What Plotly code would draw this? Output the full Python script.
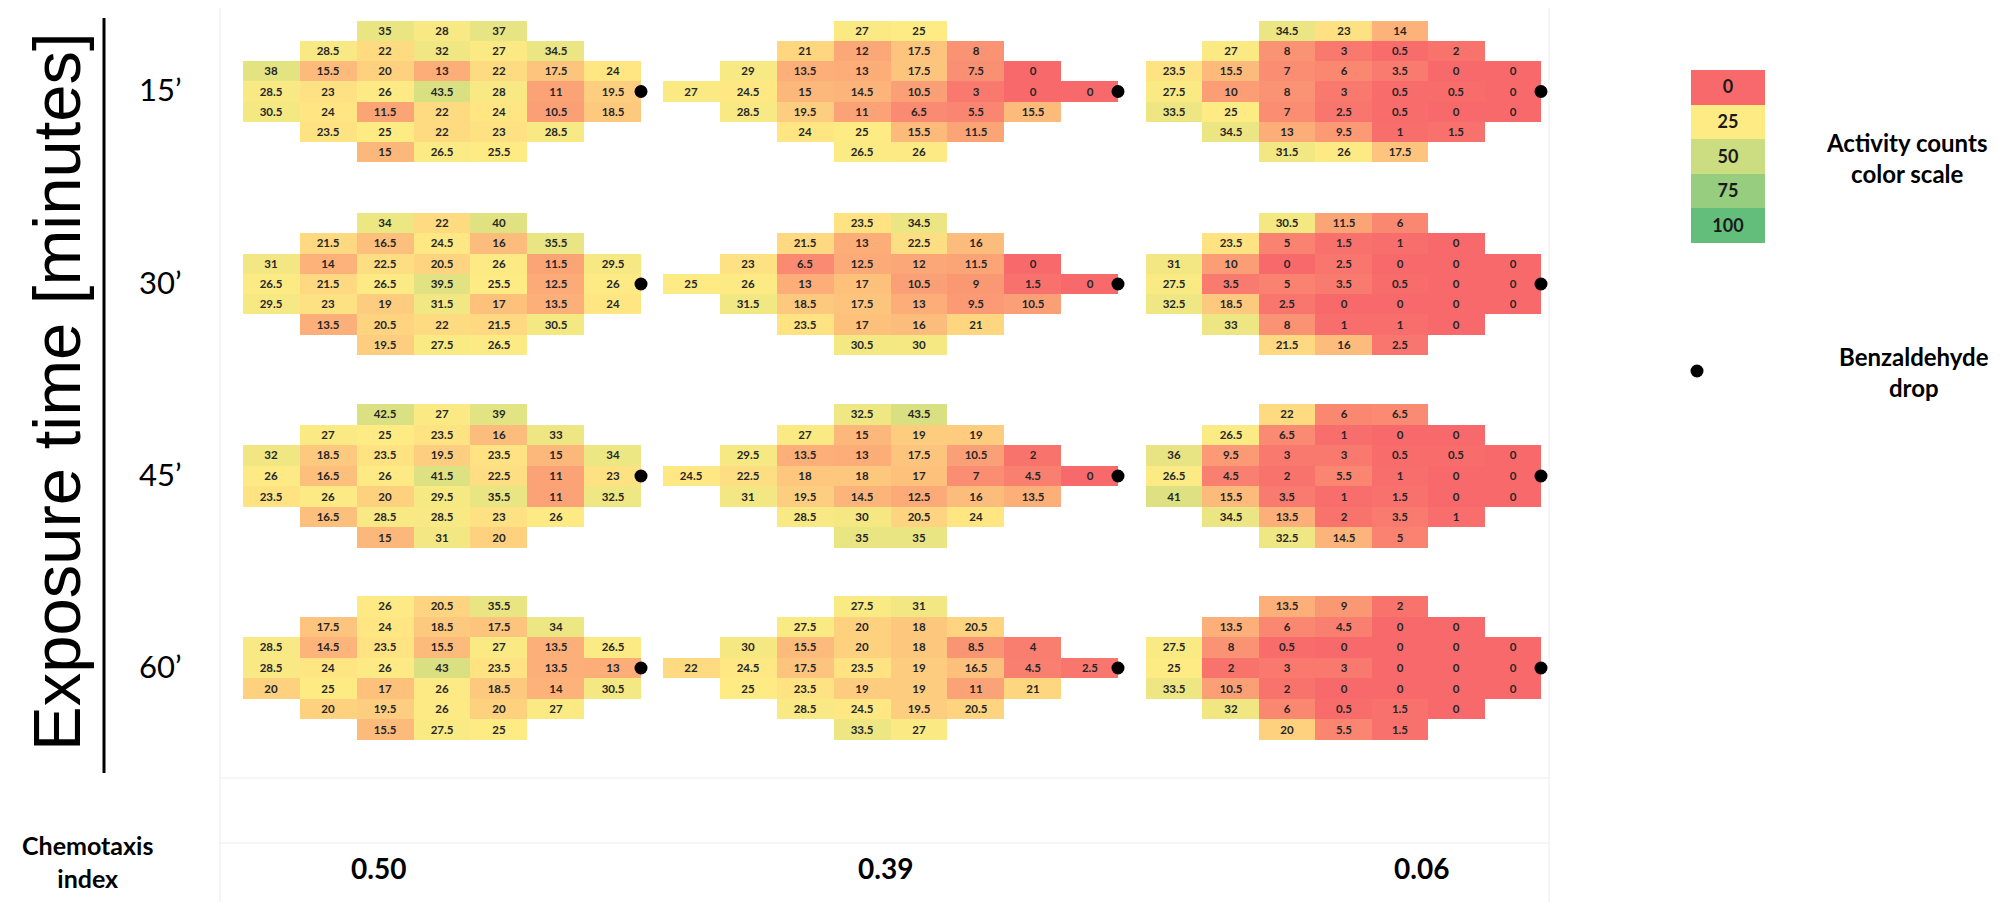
import plotly.graph_objects as go

W, H = 2014, 902

# ---------------- data ----------------
exposure_times = ["15’", "30’", "45’", "60’"]
chemotaxis_index = ["0.50", "0.39", "0.06"]
scale_ticks = [0, 25, 50, 75, 100]
drop_row = 3  # row of the arena where the benzaldehyde drop sits

# first occupied column of each of the 7 rows
hex_offsets = [2, 1, 0, 0, 0, 1, 2]        # 7-column arenas
diamond_offsets = [3, 2, 1, 0, 1, 2, 3]    # 8-column arena

# 15 minutes
t15_ci050 = [[35, 28, 37], [28.5, 22, 32, 27, 34.5], [38, 15.5, 20, 13, 22, 17.5, 24],
             [28.5, 23, 26, 43.5, 28, 11, 19.5], [30.5, 24, 11.5, 22, 24, 10.5, 18.5],
             [23.5, 25, 22, 23, 28.5], [15, 26.5, 25.5]]
t15_ci039 = [[27, 25], [21, 12, 17.5, 8], [29, 13.5, 13, 17.5, 7.5, 0],
             [27, 24.5, 15, 14.5, 10.5, 3, 0, 0], [28.5, 19.5, 11, 6.5, 5.5, 15.5],
             [24, 25, 15.5, 11.5], [26.5, 26]]
t15_ci006 = [[34.5, 23, 14], [27, 8, 3, 0.5, 2], [23.5, 15.5, 7, 6, 3.5, 0, 0],
             [27.5, 10, 8, 3, 0.5, 0.5, 0], [33.5, 25, 7, 2.5, 0.5, 0, 0],
             [34.5, 13, 9.5, 1, 1.5], [31.5, 26, 17.5]]
# 30 minutes
t30_ci050 = [[34, 22, 40], [21.5, 16.5, 24.5, 16, 35.5], [31, 14, 22.5, 20.5, 26, 11.5, 29.5],
             [26.5, 21.5, 26.5, 39.5, 25.5, 12.5, 26], [29.5, 23, 19, 31.5, 17, 13.5, 24],
             [13.5, 20.5, 22, 21.5, 30.5], [19.5, 27.5, 26.5]]
t30_ci039 = [[23.5, 34.5], [21.5, 13, 22.5, 16], [23, 6.5, 12.5, 12, 11.5, 0],
             [25, 26, 13, 17, 10.5, 9, 1.5, 0], [31.5, 18.5, 17.5, 13, 9.5, 10.5],
             [23.5, 17, 16, 21], [30.5, 30]]
t30_ci006 = [[30.5, 11.5, 6], [23.5, 5, 1.5, 1, 0], [31, 10, 0, 2.5, 0, 0, 0],
             [27.5, 3.5, 5, 3.5, 0.5, 0, 0], [32.5, 18.5, 2.5, 0, 0, 0, 0],
             [33, 8, 1, 1, 0], [21.5, 16, 2.5]]
# 45 minutes
t45_ci050 = [[42.5, 27, 39], [27, 25, 23.5, 16, 33], [32, 18.5, 23.5, 19.5, 23.5, 15, 34],
             [26, 16.5, 26, 41.5, 22.5, 11, 23], [23.5, 26, 20, 29.5, 35.5, 11, 32.5],
             [16.5, 28.5, 28.5, 23, 26], [15, 31, 20]]
t45_ci039 = [[32.5, 43.5], [27, 15, 19, 19], [29.5, 13.5, 13, 17.5, 10.5, 2],
             [24.5, 22.5, 18, 18, 17, 7, 4.5, 0], [31, 19.5, 14.5, 12.5, 16, 13.5],
             [28.5, 30, 20.5, 24], [35, 35]]
t45_ci006 = [[22, 6, 6.5], [26.5, 6.5, 1, 0, 0], [36, 9.5, 3, 3, 0.5, 0.5, 0],
             [26.5, 4.5, 2, 5.5, 1, 0, 0], [41, 15.5, 3.5, 1, 1.5, 0, 0],
             [34.5, 13.5, 2, 3.5, 1], [32.5, 14.5, 5]]
# 60 minutes
t60_ci050 = [[26, 20.5, 35.5], [17.5, 24, 18.5, 17.5, 34], [28.5, 14.5, 23.5, 15.5, 27, 13.5, 26.5],
             [28.5, 24, 26, 43, 23.5, 13.5, 13], [20, 25, 17, 26, 18.5, 14, 30.5],
             [20, 19.5, 26, 20, 27], [15.5, 27.5, 25]]
t60_ci039 = [[27.5, 31], [27.5, 20, 18, 20.5], [30, 15.5, 20, 18, 8.5, 4],
             [22, 24.5, 17.5, 23.5, 19, 16.5, 4.5, 2.5], [25, 23.5, 19, 19, 11, 21],
             [28.5, 24.5, 19.5, 20.5], [33.5, 27]]
t60_ci006 = [[13.5, 9, 2], [13.5, 6, 4.5, 0, 0], [27.5, 8, 0.5, 0, 0, 0, 0],
             [25, 2, 3, 3, 0, 0, 0], [33.5, 10.5, 2, 0, 0, 0, 0],
             [32, 6, 0.5, 1.5, 0], [20, 5.5, 1.5]]

panels = [[t15_ci050, t15_ci039, t15_ci006],
          [t30_ci050, t30_ci039, t30_ci006],
          [t45_ci050, t45_ci039, t45_ci006],
          [t60_ci050, t60_ci039, t60_ci006]]

# ---------------- style / layout ----------------
colorscale = [[0.0, "#F8696B"], [0.25, "#FFEB84"], [1.0, "#63BE7B"]]
col_px = [(235, 633), (655, 1110), (1138, 1533)]
row_px = [(13, 154), (205, 347), (396, 540), (588, 732)]
FONT_C = "Lato"


def xd(a, b):
    return [a / W, b / W]


def yd(top, bottom):
    return [1 - bottom / H, 1 - top / H]


fig = go.Figure()
layout_axes = {}
k = 0
for r in range(4):
    for c in range(3):
        k += 1
        vals = panels[r][c]
        offs = diamond_offsets if c == 1 else hex_offsets
        ncols = max(o + len(row) for o, row in zip(offs, vals))
        z = [[None] * ncols for _ in range(len(vals))]
        txt = [[""] * ncols for _ in range(len(vals))]
        for i, row in enumerate(vals):
            for j, v in enumerate(row):
                z[i][offs[i] + j] = v
                txt[i][offs[i] + j] = f"{v:g}"
        xa = "x" if k == 1 else f"x{k}"
        ya = "y" if k == 1 else f"y{k}"
        fig.add_trace(go.Heatmap(
            z=z, text=txt, texttemplate="%{text}", colorscale=colorscale,
            zmin=0, zmax=100, showscale=False, xaxis=xa, yaxis=ya,
            hoverinfo="skip", xgap=0, ygap=0,
            textfont=dict(size=11.5, color="#262626", family=FONT_C, weight="bold")))
        fig.add_trace(go.Scatter(
            x=[ncols - 0.5], y=[drop_row], mode="markers",
            marker=dict(color="black", size=13), cliponaxis=False,
            xaxis=xa, yaxis=ya, hoverinfo="skip", showlegend=False))
        sfx = "" if k == 1 else str(k)
        layout_axes["xaxis" + sfx] = dict(domain=xd(*col_px[c]), range=[-0.5, ncols - 0.5],
                                          visible=False, anchor=ya, fixedrange=True)
        layout_axes["yaxis" + sfx] = dict(domain=yd(*row_px[r]), range=[len(vals) - 0.5, -0.5],
                                          visible=False, anchor=xa, fixedrange=True)

# colour-scale key
k += 1
fig.add_trace(go.Heatmap(
    z=[[v] for v in scale_ticks], text=[[str(v)] for v in scale_ticks],
    texttemplate="%{text}", colorscale=colorscale, zmin=0, zmax=100,
    showscale=False, xaxis=f"x{k}", yaxis=f"y{k}", hoverinfo="skip",
    textfont=dict(size=18, color="#1a1a1a", family=FONT_C, weight="bold")))
layout_axes[f"xaxis{k}"] = dict(domain=xd(1683, 1757), range=[-0.5, 0.5], visible=False, anchor=f"y{k}")
layout_axes[f"yaxis{k}"] = dict(domain=yd(62, 235), range=[len(scale_ticks) - 0.5, -0.5],
                                visible=False, anchor=f"x{k}")

# benzaldehyde drop key
k += 1
fig.add_trace(go.Scatter(x=[0], y=[0], mode="markers", marker=dict(color="black", size=13),
                         xaxis=f"x{k}", yaxis=f"y{k}", hoverinfo="skip", showlegend=False,
                         cliponaxis=False))
layout_axes[f"xaxis{k}"] = dict(domain=xd(1674, 1704), range=[-1, 1], visible=False, anchor=f"y{k}")
layout_axes[f"yaxis{k}"] = dict(domain=yd(348, 378), range=[-1, 1], visible=False, anchor=f"x{k}")

annotations = []
# big axis title
annotations.append(dict(text="Exposure time [minutes]", x=48 / W, y=1 - 384 / H, xref="paper", yref="paper",
                        textangle=-90, showarrow=False, xanchor="center", yanchor="middle",
                        font=dict(family="Liberation Sans, Arial", size=67, color="black")))
for r, lab in enumerate(exposure_times):
    yc = (row_px[r][0] + row_px[r][1]) / 2 - 2
    annotations.append(dict(text=lab, x=152 / W, y=1 - yc / H, xref="paper", yref="paper",
                            showarrow=False, xanchor="center", yanchor="middle",
                            font=dict(family=FONT_C, size=31, color="black")))
annotations.append(dict(text="<b>Chemotaxis<br>index</b>", x=79 / W, y=1 - 853 / H, xref="paper", yref="paper",
                        showarrow=False, xanchor="center", yanchor="middle",
                        font=dict(family=FONT_C, size=25, color="black")))
ci_x = [370, 877, 1413]
for c, lab in enumerate(chemotaxis_index):
    annotations.append(dict(text=f"<b>{lab}</b>", x=ci_x[c] / W, y=1 - 860 / H, xref="paper", yref="paper",
                            showarrow=False, xanchor="center", yanchor="middle",
                            font=dict(family=FONT_C, size=28, color="black")))
annotations.append(dict(text="<b>Activity counts<br>color scale</b>", x=1898 / W, y=1 - 150 / H,
                        xref="paper", yref="paper", showarrow=False, xanchor="center", yanchor="middle",
                        font=dict(family=FONT_C, size=24, color="black")))
annotations.append(dict(text="<b>Benzaldehyde<br>drop</b>", x=1906 / W, y=1 - 364 / H,
                        xref="paper", yref="paper", showarrow=False, xanchor="center", yanchor="middle",
                        font=dict(family=FONT_C, size=24, color="black")))

shapes = [dict(type="line", xref="paper", yref="paper", x0=96 / W, x1=96 / W, y0=1 - 10 / H, y1=1 - 765 / H,
               line=dict(color="black", width=3))]
# faint spreadsheet gridlines behind the arenas
for gx in (212, 1541):
    shapes.append(dict(type="line", xref="paper", yref="paper", x0=gx / W, x1=gx / W, y0=0, y1=1,
                       line=dict(color="#ececec", width=1), layer="below"))
for gy in (770, 835):
    shapes.append(dict(type="line", xref="paper", yref="paper", x0=212 / W, x1=1541 / W,
                       y0=1 - gy / H, y1=1 - gy / H, line=dict(color="#ececec", width=1), layer="below"))

fig.update_layout(width=W, height=H, margin=dict(l=0, r=0, t=0, b=0),
                  paper_bgcolor="white", plot_bgcolor="rgba(0,0,0,0)",
                  showlegend=False, annotations=annotations, shapes=shapes, **layout_axes)

fig.write_html("out.html")
